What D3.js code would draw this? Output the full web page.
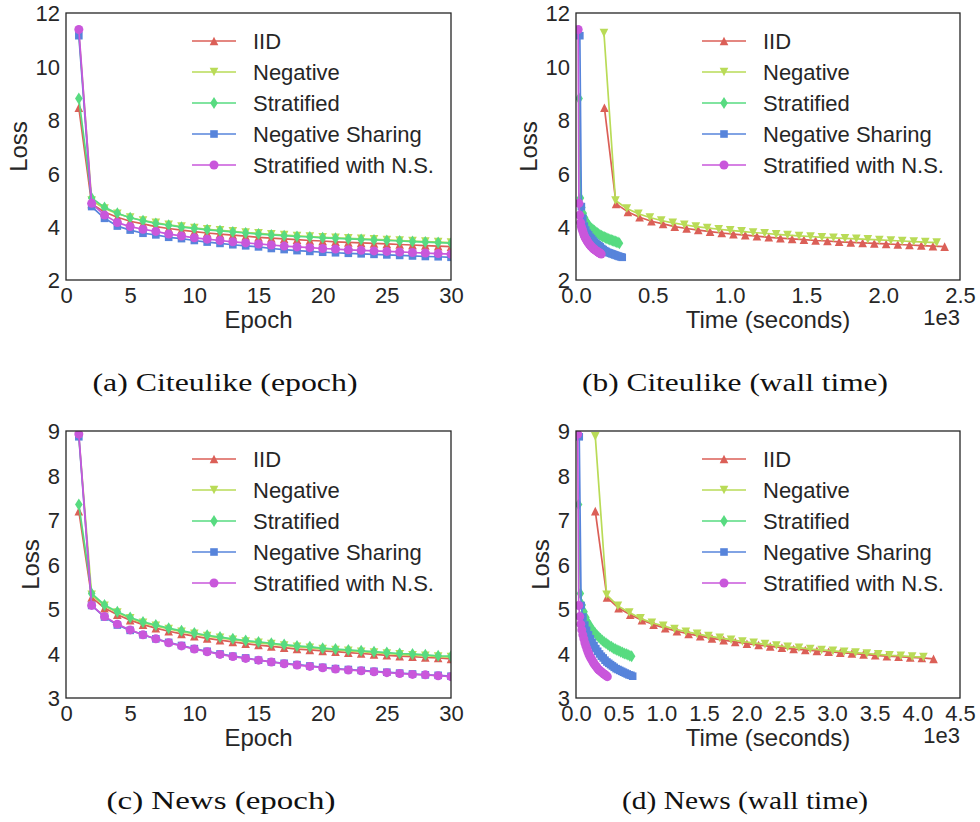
<!DOCTYPE html>
<html><head><meta charset="utf-8">
<script src="https://cdn.jsdelivr.net/npm/d3@7"></script>
<style>body{margin:0;background:#fff}</style>
</head><body><svg id="chart" width="980" height="822"></svg>
<script>
const seriesNames = ["IID", "Negative", "Stratified", "Negative Sharing", "Stratified with N.S."];
const seriesColors = ["#db5f57", "#b9db57", "#57db80", "#5784db", "#c957db"];
const seriesMarkers = ["triangleUp", "triangleDown", "thinDiamond", "square", "circle"];

const epochs = [1,2,3,4,5,6,7,8,9,10,11,12,13,14,15,16,17,18,19,20,21,22,23,24,25,26,27,28,29,30];

// Citeulike losses per epoch
const citeIID   = [8.45,4.85,4.55,4.35,4.2,4.1,4.0,3.93,3.87,3.81,3.76,3.72,3.68,3.64,3.6,3.57,3.54,3.51,3.48,3.46,3.43,3.41,3.39,3.37,3.35,3.33,3.31,3.29,3.27,3.25];
const citeNeg   = [11.25,4.98,4.68,4.48,4.34,4.23,4.14,4.07,4.0,3.95,3.9,3.86,3.82,3.78,3.75,3.71,3.68,3.65,3.63,3.6,3.58,3.56,3.54,3.52,3.5,3.48,3.46,3.44,3.42,3.4];
const citeStrat = [8.8,5.07,4.72,4.5,4.33,4.22,4.12,4.05,3.98,3.93,3.88,3.84,3.8,3.76,3.72,3.69,3.66,3.63,3.61,3.58,3.56,3.54,3.52,3.5,3.48,3.46,3.44,3.42,3.4,3.38];
const citeNS    = [11.15,4.75,4.31,4.02,3.87,3.75,3.69,3.6,3.55,3.48,3.42,3.37,3.32,3.28,3.24,3.18,3.14,3.1,3.07,3.04,3.02,3.0,2.98,2.96,2.94,2.92,2.9,2.88,2.87,2.85];
const citeSNS   = [11.38,4.87,4.43,4.15,4.0,3.9,3.82,3.72,3.65,3.58,3.53,3.48,3.43,3.39,3.35,3.31,3.27,3.24,3.21,3.18,3.16,3.13,3.11,3.09,3.07,3.05,3.03,3.01,2.99,2.97];

// Citeulike wall time (seconds) at end of each epoch
const citeTimeIID   = [185,261,338,414,491,567,643,720,796,873,949,1025,1102,1178,1255,1331,1407,1484,1560,1637,1713,1789,1866,1942,2019,2095,2171,2248,2324,2400];
const citeTimeNeg   = [182,257,331,406,481,555,630,705,780,854,929,1004,1078,1153,1228,1303,1377,1452,1527,1601,1676,1751,1825,1900,1975,2050,2124,2199,2274,2348];
const citeTimeStrat = [20,29,38,47,56,65,74,83,93,102,111,120,129,138,147,156,165,174,183,192,201,210,220,229,238,247,256,265,274,283];
const citeTimeNS    = [25,35,44,54,63,73,82,92,101,111,120,130,139,149,158,168,177,187,196,206,215,225,234,244,253,263,273,282,292,301];
const citeTimeSNS   = [14,19,24,30,35,40,45,50,55,61,66,71,76,81,86,92,97,102,107,112,117,123,128,133,138,143,148,154,159,164];

// News losses per epoch
const newsIID   = [7.2,5.26,5.02,4.87,4.75,4.65,4.57,4.5,4.44,4.39,4.34,4.3,4.26,4.22,4.19,4.16,4.13,4.1,4.08,4.06,4.04,4.02,4.0,3.98,3.96,3.94,3.93,3.91,3.9,3.88];
const newsNeg   = [8.88,5.32,5.07,4.92,4.79,4.69,4.62,4.55,4.49,4.44,4.39,4.35,4.31,4.27,4.24,4.21,4.18,4.15,4.13,4.1,4.08,4.06,4.04,4.02,4.0,3.98,3.96,3.95,3.93,3.92];
const newsStrat = [7.35,5.35,5.09,4.94,4.81,4.71,4.64,4.57,4.51,4.46,4.41,4.37,4.33,4.29,4.26,4.23,4.2,4.17,4.15,4.12,4.1,4.08,4.06,4.04,4.02,4.0,3.99,3.97,3.95,3.94];
const newsNS    = [8.87,5.08,4.82,4.64,4.52,4.42,4.33,4.25,4.18,4.11,4.05,3.99,3.94,3.9,3.85,3.81,3.78,3.75,3.72,3.69,3.66,3.64,3.62,3.6,3.58,3.56,3.54,3.52,3.51,3.49];
const newsSNS   = [8.93,5.08,4.83,4.66,4.53,4.42,4.33,4.24,4.17,4.1,4.04,3.98,3.93,3.89,3.85,3.81,3.77,3.74,3.71,3.68,3.65,3.63,3.61,3.59,3.57,3.55,3.53,3.52,3.5,3.48];

// News wall time (seconds)
const newsTimeIID   = [226,363,499,636,773,909,1046,1183,1320,1456,1593,1730,1866,2003,2140,2276,2413,2550,2687,2823,2960,3097,3233,3370,3507,3643,3780,3917,4053,4190];
const newsTimeNeg   = [226,359,491,624,756,889,1022,1154,1287,1419,1552,1685,1817,1950,2082,2215,2348,2480,2613,2745,2878,3011,3143,3276,3408,3541,3674,3806,3939,4071];
const newsTimeStrat = [30,51,73,94,116,137,159,180,202,223,245,266,287,309,330,352,373,395,416,438,459,480,502,523,545,566,588,609,631,652];
const newsTimeNS    = [38,60,81,103,124,146,168,189,211,232,254,276,297,319,340,362,384,405,427,448,470,492,513,535,556,578,600,621,643,664];
const newsTimeSNS   = [20,32,44,56,68,80,92,104,116,128,140,152,164,176,188,200,212,224,236,247,259,271,283,295,307,319,331,343,355,367];

// Tick values and labels
const epochTicks = [0,5,10,15,20,25,30];
const citeYTicks = [2,4,6,8,10,12];
const newsYTicks = [3,4,5,6,7,8,9];
const citeTimeTicks = [0,500,1000,1500,2000,2500];
const citeTimeTickLabels = ["0.0","0.5","1.0","1.5","2.0","2.5"];
const newsTimeTicks = [0,500,1000,1500,2000,2500,3000,3500,4000,4500];
const newsTimeTickLabels = ["0.0","0.5","1.0","1.5","2.0","2.5","3.0","3.5","4.0","4.5"];
const captions = ["(a) Citeulike (epoch)", "(b) Citeulike (wall time)", "(c) News (epoch)", "(d) News (wall time)"];

const svg = d3.select("#chart");
const SANS = "'Liberation Sans', Arial, sans-serif";
const TEXT = "#262626";

function markerPath(type) {
  const p = d3.path();
  if (type === "triangleUp") { const s = 8.6; p.moveTo(0,-s/2); p.lineTo(s/2,s/2); p.lineTo(-s/2,s/2); p.closePath(); }
  else if (type === "triangleDown") { const s = 8.6; p.moveTo(0,s/2); p.lineTo(s/2,-s/2); p.lineTo(-s/2,-s/2); p.closePath(); }
  else if (type === "thinDiamond") { const h = 6.0, w = 3.8; p.moveTo(0,-h); p.lineTo(w,0); p.lineTo(0,h); p.lineTo(-w,0); p.closePath(); }
  else if (type === "square") { const s = 3.8; p.rect(-s,-s,2*s,2*s); }
  else { p.arc(0,0,4.5,0,2*Math.PI); }
  return p.toString();
}

function panel(opts) {
  const {id, left, top, width, height, xDomain, yDomain, xTicks, xTickLabels, yTicks, xLabel, exp, data, yLabelX} = opts;
  const g = svg.append("g");
  const x = d3.scaleLinear().domain(xDomain).range([left, left + width]);
  const y = d3.scaleLinear().domain(yDomain).range([top + height, top]);
  const clipId = "clip" + id;
  svg.append("clipPath").attr("id", clipId).append("rect")
    .attr("x", left).attr("y", top).attr("width", width).attr("height", height);

  const plot = g.append("g").attr("clip-path", `url(#${clipId})`);
  data.forEach((s, i) => {
    const pts = s.xs.map((xv, k) => [x(xv), y(s.ys[k])]);
    plot.append("path").attr("d", d3.line()(pts))
      .attr("fill", "none").attr("stroke", seriesColors[i]).attr("stroke-width", 1.7)
      .attr("stroke-linejoin", "round");
    plot.append("g").selectAll("path").data(pts).join("path")
      .attr("d", markerPath(seriesMarkers[i]))
      .attr("transform", d => `translate(${d[0]},${d[1]})`)
      .attr("fill", seriesColors[i]);
  });

  // frame
  g.append("rect").attr("x", left).attr("y", top).attr("width", width).attr("height", height)
    .attr("fill", "none").attr("stroke", "#262626").attr("stroke-width", 1.3);

  // axes (no tick lines, seaborn white style)
  const xAxis = d3.axisBottom(x).tickValues(xTicks).tickSize(0).tickPadding(0)
    .tickFormat((d, i) => xTickLabels ? xTickLabels[i] : String(d));
  const xa = g.append("g").attr("transform", `translate(0,${top + height})`).call(xAxis);
  xa.select(".domain").remove();
  xa.selectAll("text").attr("font-family", SANS).attr("font-size", 22).attr("fill", TEXT)
    .attr("dy", null).attr("y", 23);

  const yAxis = d3.axisLeft(y).tickValues(yTicks).tickSize(0).tickPadding(6).tickFormat(d3.format("d"));
  const ya = g.append("g").attr("transform", `translate(${left},0)`).call(yAxis);
  ya.select(".domain").remove();
  ya.selectAll("text").attr("font-family", SANS).attr("font-size", 22).attr("fill", TEXT).attr("dy", "0.36em");

  g.append("text").attr("x", left + width / 2).attr("y", top + height + 48)
    .attr("text-anchor", "middle").attr("font-family", SANS).attr("font-size", 24).attr("fill", TEXT)
    .text(xLabel);
  if (exp) {
    g.append("text").attr("x", left + width).attr("y", top + height + 45)
      .attr("text-anchor", "end").attr("font-family", SANS).attr("font-size", 22).attr("fill", TEXT)
      .text(exp);
  }
  g.append("text").attr("transform", `translate(${yLabelX},${top + height / 2}) rotate(-90)`)
    .attr("text-anchor", "middle").attr("dy", "0.36em").attr("font-family", SANS).attr("font-size", 24).attr("fill", TEXT)
    .text("Loss");

  // legend
  const lg = g.append("g");
  seriesNames.forEach((name, i) => {
    const ly = top + 28 + i * 31;
    lg.append("line").attr("x1", left + 126).attr("x2", left + 170).attr("y1", ly).attr("y2", ly)
      .attr("stroke", seriesColors[i]).attr("stroke-width", 1.7);
    lg.append("path").attr("d", markerPath(seriesMarkers[i]))
      .attr("transform", `translate(${left + 148},${ly})`).attr("fill", seriesColors[i]);
    lg.append("text").attr("x", left + 187).attr("y", ly).attr("dy", "0.36em")
      .attr("font-family", SANS).attr("font-size", 22).attr("fill", TEXT).text(name);
  });
}

const citeLoss = [citeIID, citeNeg, citeStrat, citeNS, citeSNS];
const citeTimes = [citeTimeIID, citeTimeNeg, citeTimeStrat, citeTimeNS, citeTimeSNS];
const newsLoss = [newsIID, newsNeg, newsStrat, newsNS, newsSNS];
const newsTimes = [newsTimeIID, newsTimeNeg, newsTimeStrat, newsTimeNS, newsTimeSNS];

panel({id: "a", left: 66, top: 13, width: 385, height: 267, xDomain: [0, 30], yDomain: [2, 12],
  xTicks: epochTicks, yTicks: citeYTicks, xLabel: "Epoch", yLabelX: 18,
  data: citeLoss.map(ys => ({xs: epochs, ys}))});
panel({id: "b", left: 576, top: 13, width: 384, height: 267, xDomain: [0, 2500], yDomain: [2, 12],
  xTicks: citeTimeTicks, xTickLabels: citeTimeTickLabels, yTicks: citeYTicks, xLabel: "Time (seconds)", exp: "1e3", yLabelX: 528,
  data: citeLoss.map((ys, i) => ({xs: citeTimes[i], ys}))});
panel({id: "c", left: 66, top: 431, width: 385, height: 267, xDomain: [0, 30], yDomain: [3, 9],
  xTicks: epochTicks, yTicks: newsYTicks, xLabel: "Epoch", yLabelX: 30,
  data: newsLoss.map(ys => ({xs: epochs, ys}))});
panel({id: "d", left: 576, top: 431, width: 384, height: 267, xDomain: [0, 4500], yDomain: [3, 9],
  xTicks: newsTimeTicks, xTickLabels: newsTimeTickLabels, yTicks: newsYTicks, xLabel: "Time (seconds)", exp: "1e3", yLabelX: 540,
  data: newsLoss.map((ys, i) => ({xs: newsTimes[i], ys}))});

// captions
const capPos = [[225, 391, 265], [735, 391, 306], [221, 809, 229], [745, 809, 246]];
captions.forEach((c, i) => {
  svg.append("text").attr("x", capPos[i][0]).attr("y", capPos[i][1]).attr("text-anchor", "middle")
    .attr("font-family", "'Liberation Serif', 'Times New Roman', serif").attr("font-size", 25).attr("fill", "#111")
    .attr("textLength", capPos[i][2]).attr("lengthAdjust", "spacingAndGlyphs")
    .text(c);
});
</script>
</body></html>
